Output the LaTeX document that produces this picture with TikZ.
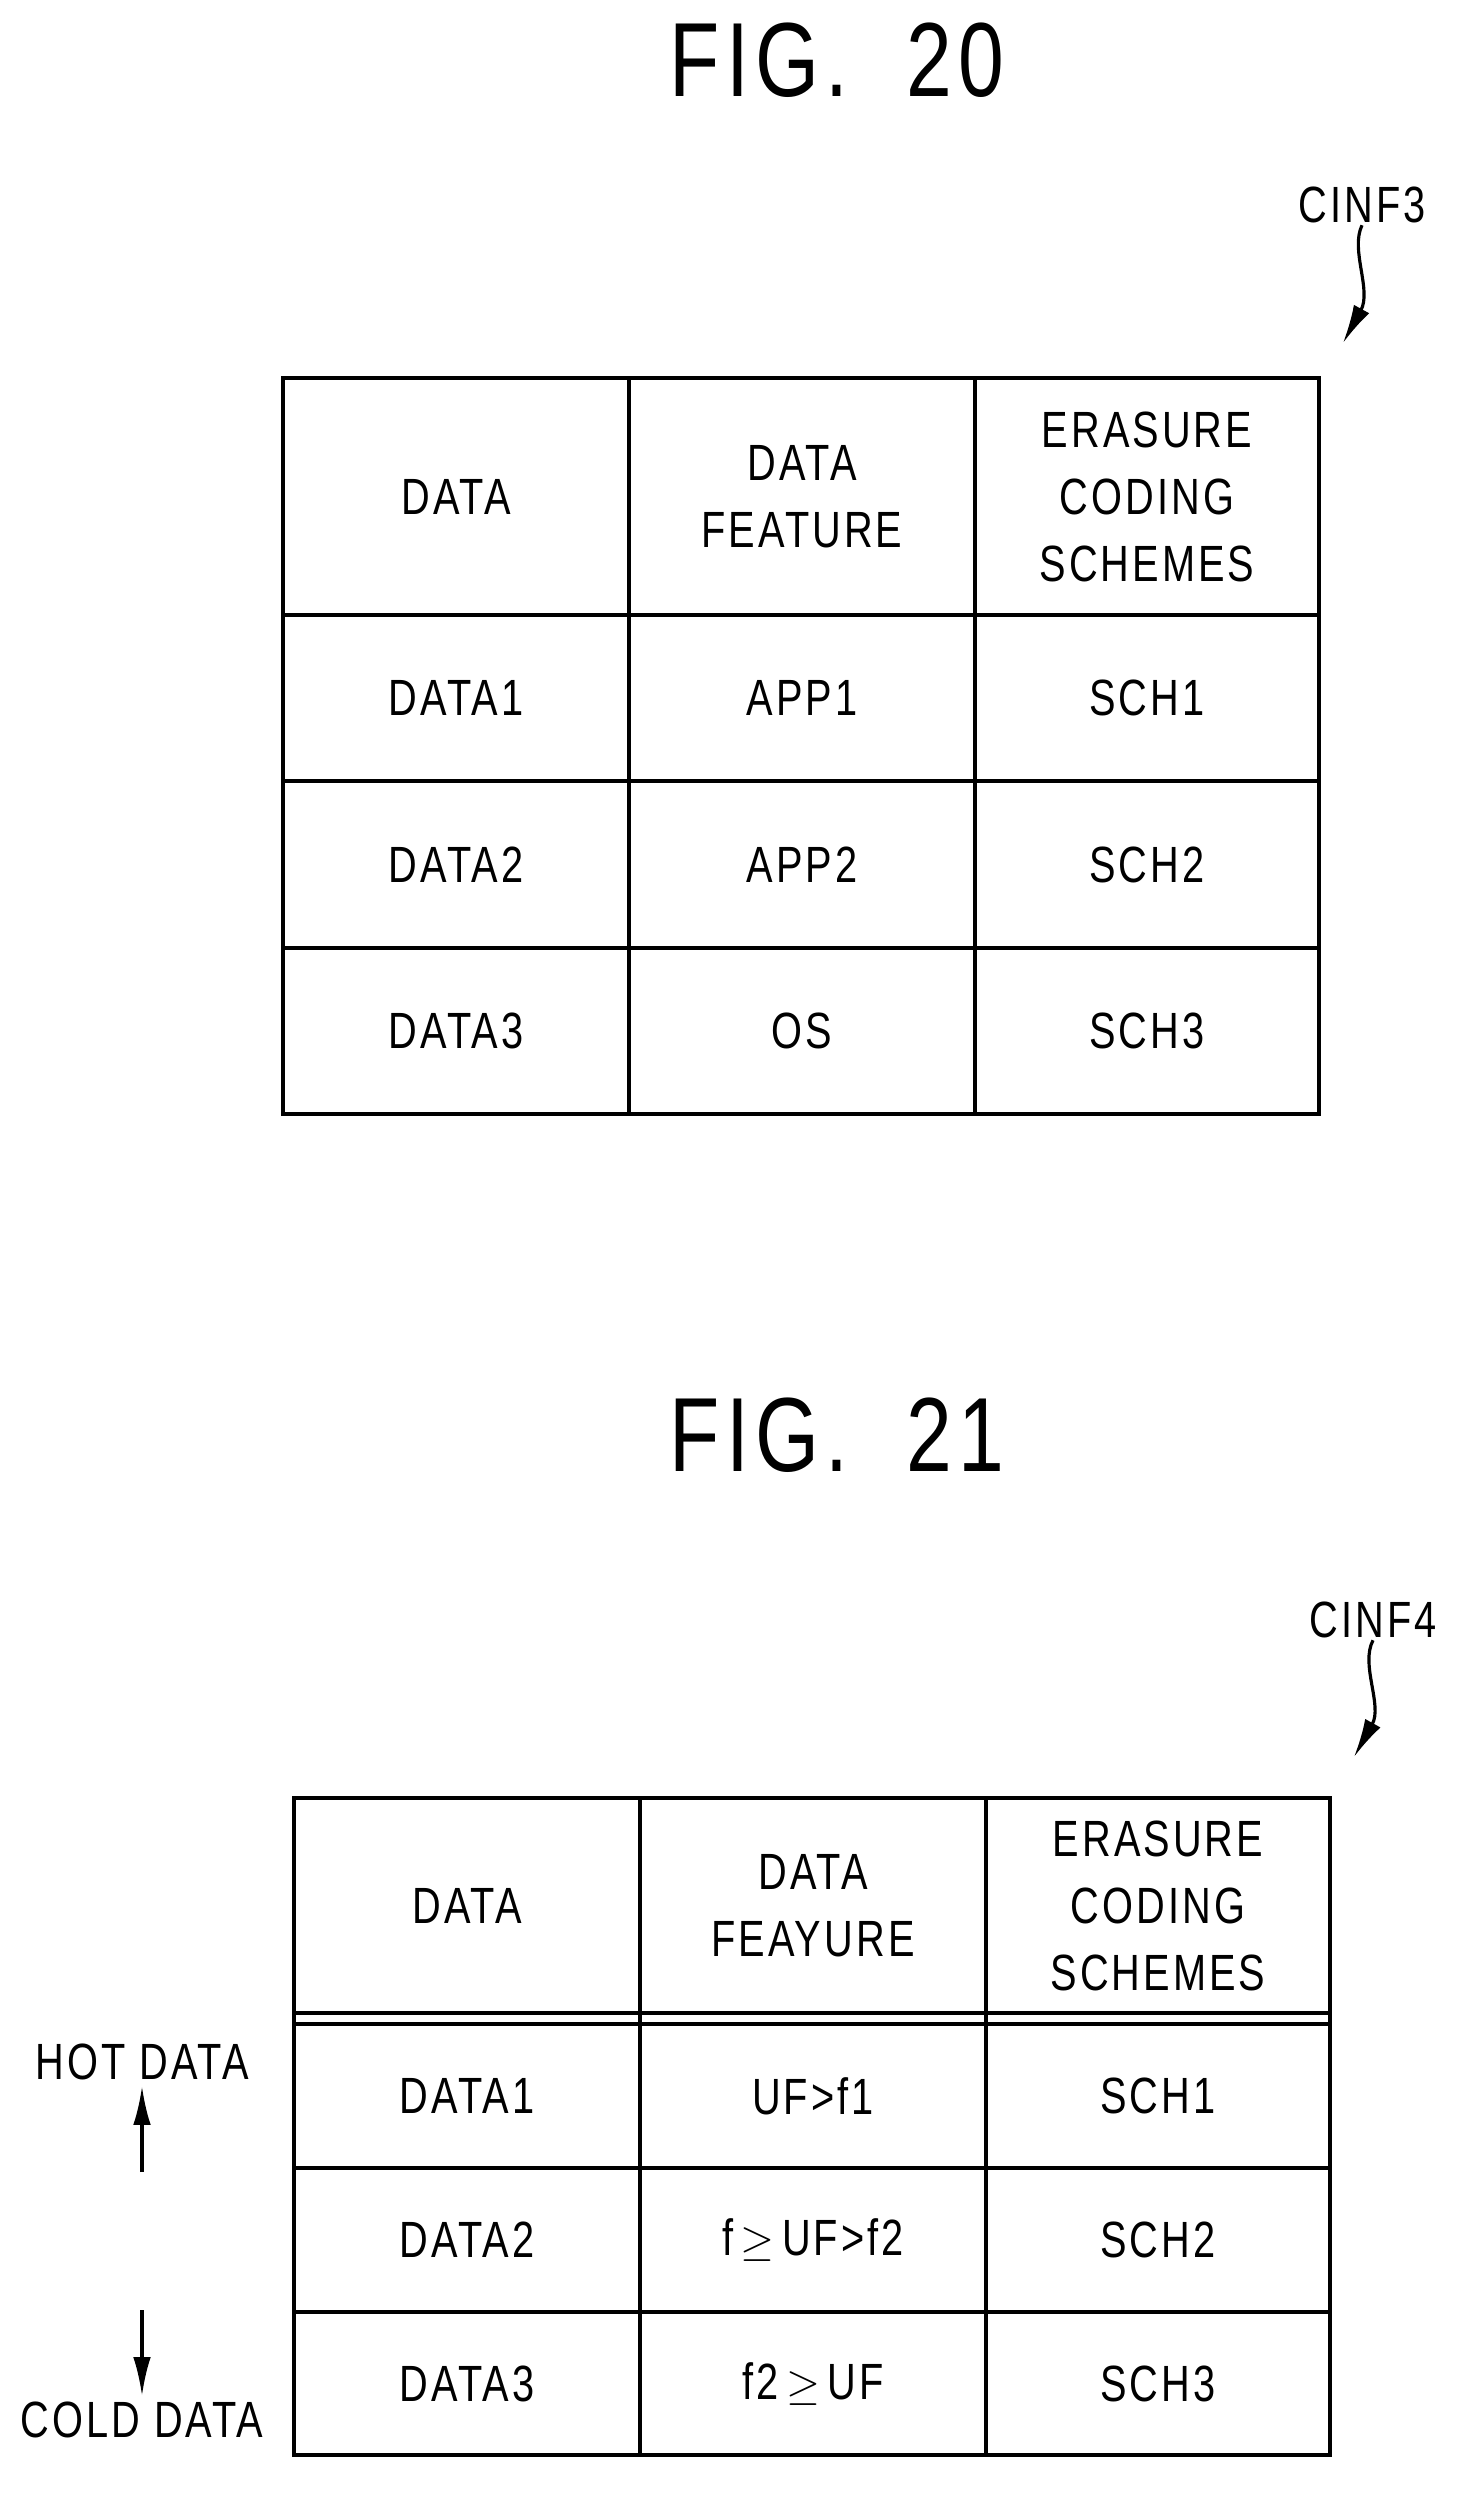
\documentclass[tikz,border=0pt]{standalone}
\usepackage{fontspec}
\setmainfont{Liberation Sans}[FakeStretch=0.78,LetterSpace=6]
\usetikzlibrary{arrows.meta}
\tikzset{cell/.style={align=center,font=\fontsize{29}{38}\selectfont}}
\tikzset{grid/.style={line width=2.6pt}}
\tikzset{title/.style={font=\fontsize{60}{64}\selectfont}}
\tikzset{ref/.style={font=\fontsize{29}{32}\selectfont}}
\tikzset{lead/.style={line width=1.8pt,-{Latex[length=22pt,width=10pt]}}}
\begin{document}
\begin{tikzpicture}[x=0.02cm,y=-0.02cm]
    \useasboundingbox (0,0) rectangle (1481,2511);
    % FIG. 20
    \node[title] (f20) at (837,60) {FIG.\ \ 20};
    \node[ref] (c3) at (1362,205) {CINF3};
    \coordinate (c3e) at (1343,343);
    \draw[lead] (c3.south) ++(0,-4) .. controls (1350,250) and (1372,290) .. (c3e);
    \draw[grid] (283,378) rectangle (1319,1114);
    \foreach \x in {629,975} \draw[grid] (\x,378) -- (\x,1114);
    \foreach \y in {615,781,948} \draw[grid] (283,\y) -- (1319,\y);
    \node[cell] (a0) at (456,497) {DATA};
    \node[cell] (b0) at (802,497) {DATA\\FEATURE};
    \node[cell] (s0) at (1147,497) {ERASURE\\CODING\\SCHEMES};
    \node[cell] (a1) at (456,698) {DATA1};
    \node[cell] (b1) at (802,698) {APP1};
    \node[cell] (s1) at (1147,698) {SCH1};
    \node[cell] (a2) at (456,865) {DATA2};
    \node[cell] (b2) at (802,865) {APP2};
    \node[cell] (s2) at (1147,865) {SCH2};
    \node[cell] (a3) at (456,1031) {DATA3};
    \node[cell] (b3) at (802,1031) {OS};
    \node[cell] (s3) at (1147,1031) {SCH3};
    % FIG. 21
    \node[title] (f21) at (837,1435) {FIG.\ \ 21};
    \node[ref] (c4) at (1373,1620) {CINF4};
    \coordinate (c4e) at (1354,1757);
    \draw[lead] (c4.south) ++(0,-4) .. controls (1360,1665) and (1383,1705) .. (c4e);
    \draw[grid] (294,1798) rectangle (1330,2455);
    \foreach \x in {640,986} \draw[grid] (\x,1798) -- (\x,2455);
    \foreach \y in {2013,2024,2168,2312} \draw[grid] (294,\y) -- (1330,\y);
    \node[cell] (d0) at (467,1906) {DATA};
    \node[cell] (e0) at (813,1906) {DATA\\FEAYURE};
    \node[cell] (t0) at (1158,1906) {ERASURE\\CODING\\SCHEMES};
    \node[cell] (d1) at (467,2096) {DATA1};
    \node[cell] (e1) at (813,2096) {UF>f1};
    \node[cell] (t1) at (1158,2096) {SCH1};
    \node[cell] (d2) at (467,2240) {DATA2};
    \node[cell] (e2) at (813,2240) {f$\,\geq\,$UF>f2};
    \node[cell] (t2) at (1158,2240) {SCH2};
    \node[cell] (d3) at (467,2384) {DATA3};
    \node[cell] (e3) at (813,2384) {f2$\,\geq\,$UF};
    \node[cell] (t3) at (1158,2384) {SCH3};
    \node[cell] (hot) at (142,2062) {HOT DATA};
    \node[cell] (cold) at (142,2420) {COLD DATA};
    \coordinate (hb) at (142,2172);
    \coordinate (ct) at (142,2310);
    \draw[lead] (hb) -- (hot.south);
    \draw[lead] (ct) -- (cold.north);
\end{tikzpicture}
\end{document}
